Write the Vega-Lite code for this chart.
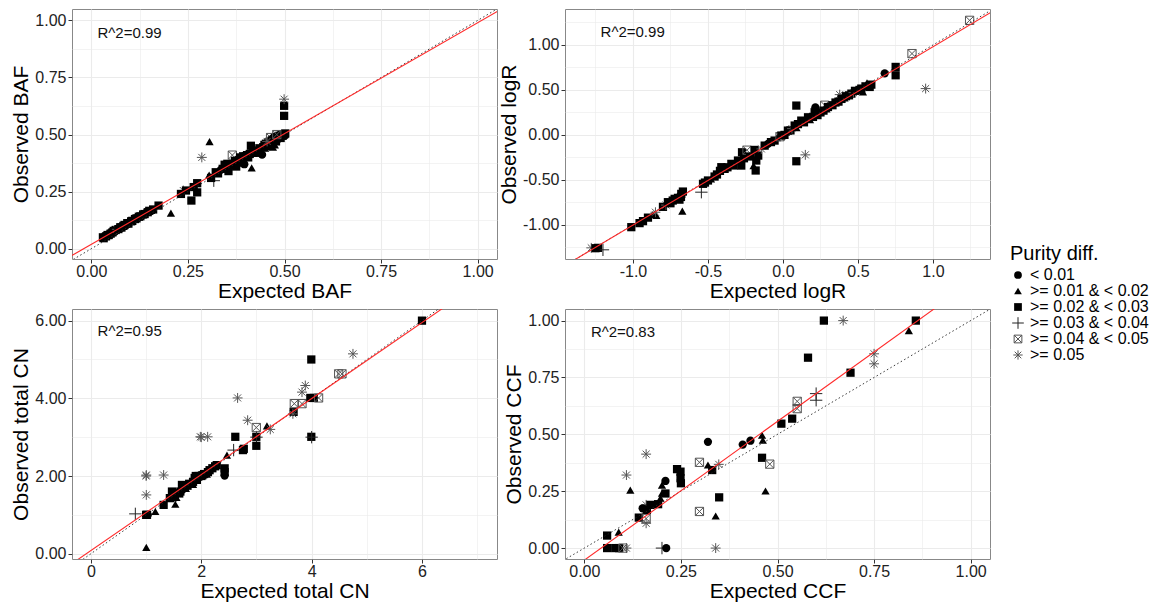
{
"$schema":"https://vega.github.io/schema/vega-lite/v6.json",
"padding":{"left":10,"top":8,"right":0,"bottom":0},
"background":"white",
"datasets":{
"cats":[{"d":"A","purity":"< 0.01"},{"d":"B","purity":">= 0.01 & < 0.02"},{"d":"C","purity":">= 0.02 & < 0.03"},{"d":"D","purity":">= 0.03 & < 0.04"},{"d":"E","purity":">= 0.04 & < 0.05"},{"d":"F","purity":">= 0.05"}],
"notes":[{"p":"baf","x":0.016,"y":0.946,"label":"R^2=0.99"},{"p":"logr","x":-1.216,"y":1.141,"label":"R^2=0.99"},{"p":"cn","x":0.12,"y":5.74,"label":"R^2=0.95"},{"p":"ccf","x":0.017,"y":0.949,"label":"R^2=0.83"}],
"lines":[
{"p":"baf","k":"fit","x":-0.1,"y":-0.078},{"p":"baf","k":"fit","x":1.1,"y":1.087},{"p":"baf","k":"id","x":-0.1,"y":-0.1},{"p":"baf","k":"id","x":1.1,"y":1.1},
{"p":"logr","k":"fit","x":-1.5,"y":-1.499},{"p":"logr","k":"fit","x":1.5,"y":1.477},{"p":"logr","k":"id","x":-1.5,"y":-1.5},{"p":"logr","k":"id","x":1.5,"y":1.5},
{"p":"cn","k":"fit","x":-0.5,"y":-0.407},{"p":"cn","k":"fit","x":7.5,"y":7.417},{"p":"cn","k":"id","x":-0.5,"y":-0.5},{"p":"cn","k":"id","x":7.5,"y":7.5},
{"p":"ccf","k":"fit","x":-0.1,"y":-0.175},{"p":"ccf","k":"fit","x":1.1,"y":1.289},{"p":"ccf","k":"id","x":-0.1,"y":-0.1},{"p":"ccf","k":"id","x":1.1,"y":1.1}
],
"pts":[
{"p":"baf","x":0.03,"y":0.05,"d":"C"},{"p":"baf","x":0.032,"y":0.046,"d":"C"},{"p":"baf","x":0.035,"y":0.055,"d":"A"},{"p":"baf","x":0.038,"y":0.054,"d":"C"},{"p":"baf","x":0.04,"y":0.058,"d":"B"},{"p":"baf","x":0.042,"y":0.06,"d":"C"},{"p":"baf","x":0.045,"y":0.06,"d":"C"},{"p":"baf","x":0.048,"y":0.068,"d":"A"},{"p":"baf","x":0.05,"y":0.066,"d":"C"},{"p":"baf","x":0.053,"y":0.07,"d":"B"},{"p":"baf","x":0.055,"y":0.072,"d":"C"},{"p":"baf","x":0.058,"y":0.078,"d":"C"},{"p":"baf","x":0.06,"y":0.075,"d":"A"},{"p":"baf","x":0.063,"y":0.082,"d":"C"},{"p":"baf","x":0.066,"y":0.085,"d":"F"},{"p":"baf","x":0.07,"y":0.086,"d":"C"},{"p":"baf","x":0.072,"y":0.09,"d":"B"},{"p":"baf","x":0.075,"y":0.094,"d":"C"},{"p":"baf","x":0.078,"y":0.093,"d":"C"},{"p":"baf","x":0.08,"y":0.1,"d":"A"},{"p":"baf","x":0.083,"y":0.1,"d":"C"},{"p":"baf","x":0.086,"y":0.104,"d":"C"},{"p":"baf","x":0.09,"y":0.106,"d":"B"},{"p":"baf","x":0.093,"y":0.112,"d":"C"},{"p":"baf","x":0.096,"y":0.11,"d":"C"},{"p":"baf","x":0.1,"y":0.118,"d":"A"},{"p":"baf","x":0.103,"y":0.12,"d":"C"},{"p":"baf","x":0.106,"y":0.122,"d":"C"},{"p":"baf","x":0.11,"y":0.128,"d":"B"},{"p":"baf","x":0.113,"y":0.13,"d":"C"},{"p":"baf","x":0.117,"y":0.133,"d":"C"},{"p":"baf","x":0.12,"y":0.138,"d":"A"},{"p":"baf","x":0.123,"y":0.14,"d":"C"},{"p":"baf","x":0.127,"y":0.142,"d":"C"},{"p":"baf","x":0.13,"y":0.148,"d":"B"},{"p":"baf","x":0.134,"y":0.15,"d":"C"},{"p":"baf","x":0.138,"y":0.152,"d":"C"},{"p":"baf","x":0.142,"y":0.158,"d":"A"},{"p":"baf","x":0.146,"y":0.16,"d":"C"},{"p":"baf","x":0.15,"y":0.166,"d":"C"},{"p":"baf","x":0.155,"y":0.168,"d":"B"},{"p":"baf","x":0.16,"y":0.172,"d":"C"},
{"p":"baf","x":0.174,"y":0.189,"d":"C"},{"p":"baf","x":0.206,"y":0.156,"d":"B"},{"p":"baf","x":0.238,"y":0.255,"d":"F"},{"p":"baf","x":0.232,"y":0.24,"d":"C"},{"p":"baf","x":0.245,"y":0.255,"d":"C"},{"p":"baf","x":0.259,"y":0.211,"d":"C"},{"p":"baf","x":0.274,"y":0.247,"d":"C"},{"p":"baf","x":0.274,"y":0.287,"d":"C"},{"p":"baf","x":0.265,"y":0.27,"d":"C"},{"p":"baf","x":0.286,"y":0.4,"d":"F"},{"p":"baf","x":0.306,"y":0.469,"d":"B"},{"p":"baf","x":0.305,"y":0.323,"d":"B"},{"p":"baf","x":0.317,"y":0.298,"d":"D"},{"p":"baf","x":0.31,"y":0.31,"d":"C"},
{"p":"baf","x":0.322,"y":0.335,"d":"C"},{"p":"baf","x":0.328,"y":0.33,"d":"C"},{"p":"baf","x":0.335,"y":0.345,"d":"A"},{"p":"baf","x":0.34,"y":0.35,"d":"C"},{"p":"baf","x":0.345,"y":0.368,"d":"C"},{"p":"baf","x":0.35,"y":0.36,"d":"C"},{"p":"baf","x":0.352,"y":0.372,"d":"C"},{"p":"baf","x":0.355,"y":0.34,"d":"C"},{"p":"baf","x":0.358,"y":0.375,"d":"B"},{"p":"baf","x":0.362,"y":0.365,"d":"C"},{"p":"baf","x":0.365,"y":0.41,"d":"E"},{"p":"baf","x":0.368,"y":0.37,"d":"C"},{"p":"baf","x":0.372,"y":0.385,"d":"C"},{"p":"baf","x":0.375,"y":0.36,"d":"C"},{"p":"baf","x":0.378,"y":0.39,"d":"A"},{"p":"baf","x":0.382,"y":0.38,"d":"C"},{"p":"baf","x":0.385,"y":0.4,"d":"C"},{"p":"baf","x":0.388,"y":0.375,"d":"B"},{"p":"baf","x":0.39,"y":0.39,"d":"C"},{"p":"baf","x":0.393,"y":0.405,"d":"C"},{"p":"baf","x":0.396,"y":0.37,"d":"A"},{"p":"baf","x":0.4,"y":0.405,"d":"C"},{"p":"baf","x":0.403,"y":0.41,"d":"C"},{"p":"baf","x":0.406,"y":0.4,"d":"C"},{"p":"baf","x":0.41,"y":0.415,"d":"C"},{"p":"baf","x":0.413,"y":0.451,"d":"C"},{"p":"baf","x":0.415,"y":0.354,"d":"B"},{"p":"baf","x":0.418,"y":0.42,"d":"C"},{"p":"baf","x":0.42,"y":0.425,"d":"C"},{"p":"baf","x":0.425,"y":0.43,"d":"C"},{"p":"baf","x":0.43,"y":0.42,"d":"C"},{"p":"baf","x":0.435,"y":0.44,"d":"C"},{"p":"baf","x":0.442,"y":0.412,"d":"A"},{"p":"baf","x":0.445,"y":0.445,"d":"C"},{"p":"baf","x":0.448,"y":0.455,"d":"C"},{"p":"baf","x":0.45,"y":0.44,"d":"B"},{"p":"baf","x":0.452,"y":0.46,"d":"C"},{"p":"baf","x":0.455,"y":0.45,"d":"C"},{"p":"baf","x":0.458,"y":0.465,"d":"C"},{"p":"baf","x":0.46,"y":0.455,"d":"B"},{"p":"baf","x":0.462,"y":0.47,"d":"C"},{"p":"baf","x":0.464,"y":0.487,"d":"E"},{"p":"baf","x":0.466,"y":0.46,"d":"C"},{"p":"baf","x":0.468,"y":0.475,"d":"C"},{"p":"baf","x":0.47,"y":0.465,"d":"B"},{"p":"baf","x":0.472,"y":0.48,"d":"C"},{"p":"baf","x":0.475,"y":0.485,"d":"C"},{"p":"baf","x":0.478,"y":0.47,"d":"C"},{"p":"baf","x":0.48,"y":0.49,"d":"C"},{"p":"baf","x":0.482,"y":0.478,"d":"A"},{"p":"baf","x":0.485,"y":0.49,"d":"C"},{"p":"baf","x":0.487,"y":0.495,"d":"C"},{"p":"baf","x":0.49,"y":0.485,"d":"C"},{"p":"baf","x":0.492,"y":0.5,"d":"C"},{"p":"baf","x":0.495,"y":0.495,"d":"C"},{"p":"baf","x":0.497,"y":0.5,"d":"C"},{"p":"baf","x":0.5,"y":0.502,"d":"C"},{"p":"baf","x":0.5,"y":0.495,"d":"A"},{"p":"baf","x":0.502,"y":0.505,"d":"C"},{"p":"baf","x":0.499,"y":0.626,"d":"C"},{"p":"baf","x":0.499,"y":0.582,"d":"C"},{"p":"baf","x":0.499,"y":0.655,"d":"F"},{"p":"baf","x":0.475,"y":0.455,"d":"B"},{"p":"baf","x":0.47,"y":0.445,"d":"B"},{"p":"baf","x":0.48,"y":0.5,"d":"E"},{"p":"baf","x":0.455,"y":0.47,"d":"F"},
{"p":"logr","x":-1.278,"y":-1.256,"d":"F"},{"p":"logr","x":-1.233,"y":-1.256,"d":"C"},{"p":"logr","x":-1.2,"y":-1.278,"d":"D"},{"p":"logr","x":-1.25,"y":-1.26,"d":"C"},{"p":"logr","x":-1.011,"y":-1.026,"d":"C"},{"p":"logr","x":-0.956,"y":-0.981,"d":"C"},{"p":"logr","x":-0.933,"y":-0.959,"d":"C"},{"p":"logr","x":-0.9,"y":-0.92,"d":"C"},{"p":"logr","x":-0.867,"y":-0.885,"d":"B"},{"p":"logr","x":-0.844,"y":-0.896,"d":"B"},{"p":"logr","x":-0.85,"y":-0.86,"d":"F"},{"p":"logr","x":-0.8,"y":-0.8,"d":"C"},{"p":"logr","x":-0.78,"y":-0.78,"d":"F"},{"p":"logr","x":-0.767,"y":-0.748,"d":"C"},{"p":"logr","x":-0.75,"y":-0.76,"d":"C"},{"p":"logr","x":-0.735,"y":-0.73,"d":"C"},{"p":"logr","x":-0.722,"y":-0.711,"d":"C"},{"p":"logr","x":-0.7,"y":-0.7,"d":"C"},{"p":"logr","x":-0.69,"y":-0.72,"d":"C"},{"p":"logr","x":-0.678,"y":-0.656,"d":"C"},{"p":"logr","x":-0.667,"y":-0.63,"d":"C"},{"p":"logr","x":-0.671,"y":-0.848,"d":"B"},{"p":"logr","x":-0.68,"y":-0.69,"d":"C"},{"p":"logr","x":-0.544,"y":-0.637,"d":"D"},{"p":"logr","x":-0.533,"y":-0.544,"d":"C"},{"p":"logr","x":-0.52,"y":-0.53,"d":"C"},{"p":"logr","x":-0.5,"y":-0.507,"d":"C"},{"p":"logr","x":-0.48,"y":-0.49,"d":"B"},{"p":"logr","x":-0.456,"y":-0.463,"d":"C"},{"p":"logr","x":-0.44,"y":-0.44,"d":"C"},{"p":"logr","x":-0.42,"y":-0.4,"d":"C"},{"p":"logr","x":-0.411,"y":-0.359,"d":"C"},{"p":"logr","x":-0.389,"y":-0.378,"d":"C"},{"p":"logr","x":-0.37,"y":-0.36,"d":"C"},{"p":"logr","x":-0.344,"y":-0.322,"d":"C"},{"p":"logr","x":-0.33,"y":-0.34,"d":"C"},{"p":"logr","x":-0.3,"y":-0.285,"d":"C"},{"p":"logr","x":-0.278,"y":-0.341,"d":"C"},{"p":"logr","x":-0.273,"y":-0.193,"d":"C"},{"p":"logr","x":-0.26,"y":-0.26,"d":"C"},{"p":"logr","x":-0.24,"y":-0.17,"d":"E"},{"p":"logr","x":-0.22,"y":-0.24,"d":"C"},{"p":"logr","x":-0.196,"y":-0.341,"d":"B"},{"p":"logr","x":-0.189,"y":-0.167,"d":"C"},{"p":"logr","x":-0.178,"y":-0.285,"d":"C"},{"p":"logr","x":-0.182,"y":-0.396,"d":"C"},{"p":"logr","x":-0.165,"y":-0.23,"d":"C"},{"p":"logr","x":-0.144,"y":-0.156,"d":"F"},{"p":"logr","x":-0.122,"y":-0.119,"d":"C"},{"p":"logr","x":-0.1,"y":-0.1,"d":"A"},{"p":"logr","x":-0.08,"y":-0.08,"d":"C"},{"p":"logr","x":-0.056,"y":-0.063,"d":"C"},{"p":"logr","x":-0.04,"y":-0.03,"d":"B"},{"p":"logr","x":-0.02,"y":-0.02,"d":"E"},{"p":"logr","x":-0.011,"y":-0.007,"d":"C"},{"p":"logr","x":0.01,"y":0.0,"d":"C"},{"p":"logr","x":0.02,"y":0.03,"d":"B"},{"p":"logr","x":0.033,"y":0.048,"d":"C"},{"p":"logr","x":0.05,"y":0.05,"d":"C"},{"p":"logr","x":0.06,"y":0.07,"d":"F"},{"p":"logr","x":0.078,"y":0.104,"d":"C"},{"p":"logr","x":0.09,"y":0.08,"d":"B"},{"p":"logr","x":0.1,"y":0.12,"d":"C"},{"p":"logr","x":0.122,"y":0.159,"d":"C"},{"p":"logr","x":0.14,"y":0.14,"d":"C"},{"p":"logr","x":0.167,"y":0.196,"d":"C"},{"p":"logr","x":0.18,"y":0.17,"d":"B"},{"p":"logr","x":0.2,"y":0.2,"d":"C"},{"p":"logr","x":0.211,"y":0.252,"d":"C"},{"p":"logr","x":0.216,"y":0.307,"d":"A"},{"p":"logr","x":0.23,"y":0.22,"d":"C"},{"p":"logr","x":0.25,"y":0.25,"d":"C"},{"p":"logr","x":0.278,"y":0.33,"d":"E"},{"p":"logr","x":0.27,"y":0.27,"d":"C"},{"p":"logr","x":0.29,"y":0.29,"d":"B"},{"p":"logr","x":0.3,"y":0.31,"d":"C"},{"p":"logr","x":0.33,"y":0.33,"d":"C"},{"p":"logr","x":0.35,"y":0.36,"d":"C"},{"p":"logr","x":0.378,"y":0.448,"d":"F"},{"p":"logr","x":0.37,"y":0.37,"d":"C"},{"p":"logr","x":0.39,"y":0.4,"d":"C"},{"p":"logr","x":0.41,"y":0.41,"d":"B"},{"p":"logr","x":0.42,"y":0.43,"d":"C"},{"p":"logr","x":0.44,"y":0.44,"d":"C"},{"p":"logr","x":0.456,"y":0.459,"d":"C"},{"p":"logr","x":0.47,"y":0.47,"d":"F"},{"p":"logr","x":0.48,"y":0.49,"d":"C"},{"p":"logr","x":0.5,"y":0.5,"d":"B"},{"p":"logr","x":0.51,"y":0.5,"d":"C"},{"p":"logr","x":0.522,"y":0.515,"d":"C"},{"p":"logr","x":0.533,"y":0.478,"d":"B"},{"p":"logr","x":0.55,"y":0.54,"d":"C"},{"p":"logr","x":0.578,"y":0.533,"d":"C"},{"p":"logr","x":0.589,"y":0.559,"d":"C"},{"p":"logr","x":0.56,"y":0.58,"d":"B"},{"p":"logr","x":0.678,"y":0.685,"d":"A"},{"p":"logr","x":0.751,"y":0.756,"d":"C"},{"p":"logr","x":0.751,"y":0.663,"d":"C"},{"p":"logr","x":0.86,"y":0.904,"d":"E"},{"p":"logr","x":1.244,"y":1.274,"d":"E"},{"p":"logr","x":0.951,"y":0.515,"d":"F"},{"p":"logr","x":0.089,"y":0.326,"d":"C"},{"p":"logr","x":0.089,"y":-0.293,"d":"C"},{"p":"logr","x":0.149,"y":-0.222,"d":"F"},
{"p":"cn","x":1.003,"y":0.162,"d":"B"},{"p":"cn","x":0.804,"y":1.025,"d":"D"},{"p":"cn","x":1.0,"y":1.0,"d":"C"},{"p":"cn","x":1.015,"y":1.0,"d":"C"},{"p":"cn","x":1.03,"y":1.0,"d":"A"},{"p":"cn","x":1.166,"y":1.085,"d":"B"},{"p":"cn","x":1.003,"y":1.513,"d":"F"},{"p":"cn","x":1.003,"y":2.025,"d":"F"},{"p":"cn","x":1.0,"y":2.0,"d":"F"},{"p":"cn","x":1.317,"y":2.025,"d":"F"},{"p":"cn","x":1.317,"y":1.256,"d":"C"},{"p":"cn","x":1.529,"y":1.274,"d":"B"},{"p":"cn","x":1.468,"y":1.6,"d":"C"},{"p":"cn","x":1.649,"y":1.77,"d":"C"},{"p":"cn","x":1.43,"y":1.43,"d":"C"},{"p":"cn","x":1.48,"y":1.45,"d":"C"},{"p":"cn","x":1.52,"y":1.5,"d":"C"},{"p":"cn","x":1.55,"y":1.55,"d":"A"},{"p":"cn","x":1.6,"y":1.55,"d":"C"},{"p":"cn","x":1.62,"y":1.6,"d":"C"},{"p":"cn","x":1.66,"y":1.65,"d":"A"},{"p":"cn","x":1.7,"y":1.7,"d":"C"},{"p":"cn","x":1.72,"y":1.68,"d":"B"},{"p":"cn","x":1.75,"y":1.75,"d":"C"},{"p":"cn","x":1.78,"y":1.8,"d":"C"},{"p":"cn","x":1.8,"y":1.78,"d":"B"},{"p":"cn","x":1.85,"y":1.85,"d":"C"},{"p":"cn","x":1.88,"y":1.95,"d":"C"},{"p":"cn","x":1.9,"y":2.0,"d":"C"},{"p":"cn","x":1.92,"y":1.9,"d":"C"},{"p":"cn","x":1.95,"y":2.0,"d":"C"},{"p":"cn","x":1.98,"y":1.98,"d":"A"},{"p":"cn","x":2.0,"y":2.0,"d":"C"},{"p":"cn","x":2.02,"y":2.02,"d":"C"},{"p":"cn","x":2.05,"y":2.05,"d":"C"},{"p":"cn","x":2.1,"y":2.05,"d":"B"},{"p":"cn","x":2.12,"y":2.1,"d":"C"},{"p":"cn","x":2.15,"y":2.15,"d":"C"},{"p":"cn","x":2.2,"y":2.2,"d":"C"},{"p":"cn","x":2.25,"y":2.25,"d":"C"},{"p":"cn","x":2.28,"y":2.28,"d":"C"},{"p":"cn","x":1.85,"y":1.78,"d":"B"},{"p":"cn","x":1.55,"y":1.45,"d":"B"},
{"p":"cn","x":1.982,"y":3.009,"d":"F"},{"p":"cn","x":2.0,"y":3.0,"d":"F"},{"p":"cn","x":2.115,"y":3.009,"d":"F"},{"p":"cn","x":2.423,"y":2.197,"d":"C"},{"p":"cn","x":2.423,"y":2.01,"d":"A"},{"p":"cn","x":2.423,"y":2.1,"d":"C"},{"p":"cn","x":2.465,"y":2.538,"d":"B"},{"p":"cn","x":2.586,"y":2.667,"d":"D"},{"p":"cn","x":2.616,"y":3.009,"d":"C"},{"p":"cn","x":2.755,"y":2.667,"d":"C"},{"p":"cn","x":2.77,"y":2.7,"d":"C"},{"p":"cn","x":2.658,"y":4.01,"d":"F"},{"p":"cn","x":2.84,"y":3.436,"d":"F"},{"p":"cn","x":2.997,"y":3.009,"d":"C"},{"p":"cn","x":3.0,"y":3.0,"d":"D"},{"p":"cn","x":2.997,"y":2.778,"d":"C"},{"p":"cn","x":2.997,"y":3.248,"d":"E"},{"p":"cn","x":3.19,"y":3.29,"d":"B"},{"p":"cn","x":3.25,"y":3.2,"d":"F"},{"p":"cn","x":3.673,"y":3.65,"d":"C"},{"p":"cn","x":3.66,"y":3.6,"d":"F"},{"p":"cn","x":3.686,"y":3.863,"d":"E"},{"p":"cn","x":3.825,"y":3.863,"d":"E"},{"p":"cn","x":3.825,"y":4.16,"d":"F"},{"p":"cn","x":3.885,"y":4.33,"d":"F"},{"p":"cn","x":3.976,"y":4.01,"d":"C"},{"p":"cn","x":4.04,"y":4.01,"d":"C"},{"p":"cn","x":4.126,"y":4.01,"d":"E"},{"p":"cn","x":3.994,"y":5.0,"d":"C"},{"p":"cn","x":3.994,"y":3.009,"d":"C"},{"p":"cn","x":4.0,"y":3.0,"d":"D"},{"p":"cn","x":4.49,"y":4.63,"d":"E"},{"p":"cn","x":4.55,"y":4.63,"d":"E"},{"p":"cn","x":4.749,"y":5.145,"d":"F"},{"p":"cn","x":6.0,"y":6.0,"d":"C"},
{"p":"ccf","x":0.059,"y":0.055,"d":"C"},{"p":"ccf","x":0.089,"y":0.07,"d":"B"},{"p":"ccf","x":0.059,"y":0.0,"d":"C"},{"p":"ccf","x":0.08,"y":0.0,"d":"C"},{"p":"ccf","x":0.09,"y":0.0,"d":"C"},{"p":"ccf","x":0.1,"y":0.0,"d":"E"},{"p":"ccf","x":0.109,"y":0.0,"d":"F"},{"p":"ccf","x":0.109,"y":0.321,"d":"F"},{"p":"ccf","x":0.119,"y":0.255,"d":"B"},{"p":"ccf","x":0.16,"y":0.413,"d":"F"},{"p":"ccf","x":0.141,"y":0.134,"d":"C"},{"p":"ccf","x":0.16,"y":0.109,"d":"F"},{"p":"ccf","x":0.16,"y":0.13,"d":"E"},{"p":"ccf","x":0.16,"y":0.19,"d":"F"},{"p":"ccf","x":0.151,"y":0.175,"d":"A"},{"p":"ccf","x":0.162,"y":0.168,"d":"C"},{"p":"ccf","x":0.171,"y":0.19,"d":"C"},{"p":"ccf","x":0.191,"y":0.193,"d":"C"},{"p":"ccf","x":0.197,"y":0.219,"d":"B"},{"p":"ccf","x":0.201,"y":0.241,"d":"B"},{"p":"ccf","x":0.21,"y":0.24,"d":"C"},{"p":"ccf","x":0.201,"y":0.277,"d":"B"},{"p":"ccf","x":0.21,"y":0.295,"d":"A"},{"p":"ccf","x":0.201,"y":0.0,"d":"D"},{"p":"ccf","x":0.212,"y":0.0,"d":"A"},{"p":"ccf","x":0.24,"y":0.347,"d":"C"},{"p":"ccf","x":0.249,"y":0.336,"d":"C"},{"p":"ccf","x":0.249,"y":0.307,"d":"C"},{"p":"ccf","x":0.25,"y":0.285,"d":"C"},{"p":"ccf","x":0.298,"y":0.377,"d":"E"},{"p":"ccf","x":0.298,"y":0.161,"d":"E"},{"p":"ccf","x":0.32,"y":0.467,"d":"A"},{"p":"ccf","x":0.32,"y":0.365,"d":"B"},{"p":"ccf","x":0.331,"y":0.343,"d":"C"},{"p":"ccf","x":0.348,"y":0.368,"d":"F"},{"p":"ccf","x":0.349,"y":0.223,"d":"C"},{"p":"ccf","x":0.34,"y":0.141,"d":"B"},{"p":"ccf","x":0.34,"y":0.0,"d":"F"},{"p":"ccf","x":0.41,"y":0.455,"d":"A"},{"p":"ccf","x":0.43,"y":0.472,"d":"A"},{"p":"ccf","x":0.46,"y":0.496,"d":"B"},{"p":"ccf","x":0.462,"y":0.474,"d":"B"},{"p":"ccf","x":0.46,"y":0.397,"d":"C"},{"p":"ccf","x":0.48,"y":0.369,"d":"E"},{"p":"ccf","x":0.469,"y":0.251,"d":"B"},{"p":"ccf","x":0.51,"y":0.547,"d":"C"},{"p":"ccf","x":0.538,"y":0.569,"d":"C"},{"p":"ccf","x":0.551,"y":0.645,"d":"E"},{"p":"ccf","x":0.551,"y":0.613,"d":"E"},{"p":"ccf","x":0.6,"y":0.679,"d":"D"},{"p":"ccf","x":0.6,"y":0.65,"d":"D"},{"p":"ccf","x":0.579,"y":0.837,"d":"C"},{"p":"ccf","x":0.689,"y":0.771,"d":"C"},{"p":"ccf","x":0.62,"y":1.0,"d":"C"},{"p":"ccf","x":0.67,"y":1.0,"d":"F"},{"p":"ccf","x":0.75,"y":0.854,"d":"F"},{"p":"ccf","x":0.75,"y":0.81,"d":"F"},{"p":"ccf","x":0.84,"y":0.956,"d":"B"},{"p":"ccf","x":0.858,"y":1.0,"d":"C"}
]
},
"columns":2,
"spacing":{"row":6,"column":0},
"concat":[
{"width":425,"height":250,
 "encoding":{
   "x":{"field":"x","type":"quantitative","scale":{"domain":[-0.05,1.05],"nice":false,"zero":false},"axis":{"title":"Expected BAF","values":[0,0.125,0.25,0.375,0.5,0.625,0.75,0.875,1],"labelExpr":"round(datum.value*8)%2==1 ? '' : format(datum.value,'.2f')","gridWidth":{"condition":{"test":"round(datum.value*8)%2==1","value":0.6},"value":1.1},"tickColor":{"condition":{"test":"round(datum.value*8)%2==1","value":"transparent"},"value":"#333"}}},
   "y":{"field":"y","type":"quantitative","scale":{"domain":[-0.045,1.05],"nice":false,"zero":false},"axis":{"title":"Observed BAF","values":[0,0.125,0.25,0.375,0.5,0.625,0.75,0.875,1],"labelExpr":"round(datum.value*8)%2==1 ? '' : format(datum.value,'.2f')","gridWidth":{"condition":{"test":"round(datum.value*8)%2==1","value":0.6},"value":1.1},"tickColor":{"condition":{"test":"round(datum.value*8)%2==1","value":"transparent"},"value":"#333"}}}
 },
 "layer":[
 {"data":{"name":"pts"},"transform":[{"filter":"datum.p=='baf'"},{"lookup":"d","from":{"data":{"name":"cats"},"key":"d","fields":["purity"]}}],
  "mark":{"type":"point","size":68,"opacity":1,"strokeWidth":1},
  "encoding":{
   "shape":{"field":"purity","type":"nominal","title":"Purity diff.","scale":{"domain":["< 0.01",">= 0.01 & < 0.02",">= 0.02 & < 0.03",">= 0.03 & < 0.04",">= 0.04 & < 0.05",">= 0.05"],"range":["circle","triangle-up","square","M-1.5,0H1.5M0,-1.5V1.5","M-1,-1H1V1H-1ZM-1,-1L1,1M1,-1L-1,1","M-1.2,0H1.2M0,-1.2V1.2M-0.85,-0.85L0.85,0.85M0.85,-0.85L-0.85,0.85"]},"legend":{"orient":"none","legendX":938,"legendY":235}},
   "fill":{"field":"purity","type":"nominal","title":"Purity diff.","scale":{"domain":["< 0.01",">= 0.01 & < 0.02",">= 0.02 & < 0.03",">= 0.03 & < 0.04",">= 0.04 & < 0.05",">= 0.05"],"range":["black","black","black","transparent","transparent","transparent"]},"legend":{"orient":"none","legendX":938,"legendY":235}},
   "stroke":{"field":"purity","type":"nominal","title":"Purity diff.","scale":{"domain":["< 0.01",">= 0.01 & < 0.02",">= 0.02 & < 0.03",">= 0.03 & < 0.04",">= 0.04 & < 0.05",">= 0.05"],"range":["transparent","transparent","transparent","#222","#555","#555"]},"legend":{"orient":"none","legendX":938,"legendY":235}}
  }},
 {"data":{"name":"lines"},"transform":[{"filter":"datum.p=='baf' && datum.k=='id'"}],"mark":{"type":"line","clip":true,"color":"#222","strokeWidth":0.9,"strokeDash":[1.5,2.5]},"encoding":{}},
 {"data":{"name":"lines"},"transform":[{"filter":"datum.p=='baf' && datum.k=='fit'"}],"mark":{"type":"line","clip":true,"color":"#ff2a2a","strokeWidth":1.1},"encoding":{}},
 {"data":{"name":"notes"},"transform":[{"filter":"datum.p=='baf'"}],"mark":{"type":"text","align":"left","baseline":"middle","fontSize":15,"color":"#111"},"encoding":{"text":{"field":"label","type":"nominal"}}}
]},
{"width":425,"height":250,
 "encoding":{
   "x":{"field":"x","type":"quantitative","scale":{"domain":[-1.453,1.38],"nice":false,"zero":false},"axis":{"title":"Expected logR","values":[-1.25,-1,-0.75,-0.5,-0.25,0,0.25,0.5,0.75,1,1.25],"labelExpr":"round(datum.value*4)%2!=0 ? '' : (datum.value<0 ? '-' + format(-datum.value,'.1f') : format(datum.value,'.1f'))","gridWidth":{"condition":{"test":"round(datum.value*4)%2!=0","value":0.6},"value":1.1},"tickColor":{"condition":{"test":"round(datum.value*4)%2!=0","value":"transparent"},"value":"#333"}}},
   "y":{"field":"y","type":"quantitative","scale":{"domain":[-1.38,1.4],"nice":false,"zero":false},"axis":{"title":"Observed logR","values":[-1.25,-1,-0.75,-0.5,-0.25,0,0.25,0.5,0.75,1,1.25],"labelExpr":"round(datum.value*4)%2!=0 ? '' : (datum.value<0 ? '-' + format(-datum.value,'.2f') : format(datum.value,'.2f'))","gridWidth":{"condition":{"test":"round(datum.value*4)%2!=0","value":0.6},"value":1.1},"tickColor":{"condition":{"test":"round(datum.value*4)%2!=0","value":"transparent"},"value":"#333"}}}
 },
 "layer":[
 {"data":{"name":"pts"},"transform":[{"filter":"datum.p=='logr'"},{"lookup":"d","from":{"data":{"name":"cats"},"key":"d","fields":["purity"]}}],
  "mark":{"type":"point","size":68,"opacity":1,"strokeWidth":1},
  "encoding":{
   "shape":{"field":"purity","type":"nominal","title":"Purity diff.","scale":{"domain":["< 0.01",">= 0.01 & < 0.02",">= 0.02 & < 0.03",">= 0.03 & < 0.04",">= 0.04 & < 0.05",">= 0.05"],"range":["circle","triangle-up","square","M-1.5,0H1.5M0,-1.5V1.5","M-1,-1H1V1H-1ZM-1,-1L1,1M1,-1L-1,1","M-1.2,0H1.2M0,-1.2V1.2M-0.85,-0.85L0.85,0.85M0.85,-0.85L-0.85,0.85"]},"legend":{"orient":"none","legendX":938,"legendY":235}},
   "fill":{"field":"purity","type":"nominal","title":"Purity diff.","scale":{"domain":["< 0.01",">= 0.01 & < 0.02",">= 0.02 & < 0.03",">= 0.03 & < 0.04",">= 0.04 & < 0.05",">= 0.05"],"range":["black","black","black","transparent","transparent","transparent"]},"legend":{"orient":"none","legendX":938,"legendY":235}},
   "stroke":{"field":"purity","type":"nominal","title":"Purity diff.","scale":{"domain":["< 0.01",">= 0.01 & < 0.02",">= 0.02 & < 0.03",">= 0.03 & < 0.04",">= 0.04 & < 0.05",">= 0.05"],"range":["transparent","transparent","transparent","#222","#555","#555"]},"legend":{"orient":"none","legendX":938,"legendY":235}}
  }},
 {"data":{"name":"lines"},"transform":[{"filter":"datum.p=='logr' && datum.k=='id'"}],"mark":{"type":"line","clip":true,"color":"#222","strokeWidth":0.9,"strokeDash":[1.5,2.5]},"encoding":{}},
 {"data":{"name":"lines"},"transform":[{"filter":"datum.p=='logr' && datum.k=='fit'"}],"mark":{"type":"line","clip":true,"color":"#ff2a2a","strokeWidth":1.1},"encoding":{}},
 {"data":{"name":"notes"},"transform":[{"filter":"datum.p=='logr'"}],"mark":{"type":"text","align":"left","baseline":"middle","fontSize":15,"color":"#111"},"encoding":{"text":{"field":"label","type":"nominal"}}}
]},
{"width":425,"height":250,
 "encoding":{
   "x":{"field":"x","type":"quantitative","scale":{"domain":[-0.344,7.36],"nice":false,"zero":false},"axis":{"title":"Expected total CN","values":[0,1,2,3,4,5,6,7],"labelExpr":"round(datum.value)%2!=0 ? '' : format(datum.value,'d')","gridWidth":{"condition":{"test":"round(datum.value)%2!=0","value":0.6},"value":1.1},"tickColor":{"condition":{"test":"round(datum.value)%2!=0","value":"transparent"},"value":"#333"}}},
   "y":{"field":"y","type":"quantitative","scale":{"domain":[-0.137,6.3],"nice":false,"zero":false},"axis":{"title":"Observed total CN","values":[0,1,2,3,4,5,6],"labelExpr":"round(datum.value)%2!=0 ? '' : format(datum.value,'.2f')","gridWidth":{"condition":{"test":"round(datum.value)%2!=0","value":0.6},"value":1.1},"tickColor":{"condition":{"test":"round(datum.value)%2!=0","value":"transparent"},"value":"#333"}}}
 },
 "layer":[
 {"data":{"name":"pts"},"transform":[{"filter":"datum.p=='cn'"},{"lookup":"d","from":{"data":{"name":"cats"},"key":"d","fields":["purity"]}}],
  "mark":{"type":"point","size":68,"opacity":1,"strokeWidth":1},
  "encoding":{
   "shape":{"field":"purity","type":"nominal","title":"Purity diff.","scale":{"domain":["< 0.01",">= 0.01 & < 0.02",">= 0.02 & < 0.03",">= 0.03 & < 0.04",">= 0.04 & < 0.05",">= 0.05"],"range":["circle","triangle-up","square","M-1.5,0H1.5M0,-1.5V1.5","M-1,-1H1V1H-1ZM-1,-1L1,1M1,-1L-1,1","M-1.2,0H1.2M0,-1.2V1.2M-0.85,-0.85L0.85,0.85M0.85,-0.85L-0.85,0.85"]},"legend":{"orient":"none","legendX":938,"legendY":235}},
   "fill":{"field":"purity","type":"nominal","title":"Purity diff.","scale":{"domain":["< 0.01",">= 0.01 & < 0.02",">= 0.02 & < 0.03",">= 0.03 & < 0.04",">= 0.04 & < 0.05",">= 0.05"],"range":["black","black","black","transparent","transparent","transparent"]},"legend":{"orient":"none","legendX":938,"legendY":235}},
   "stroke":{"field":"purity","type":"nominal","title":"Purity diff.","scale":{"domain":["< 0.01",">= 0.01 & < 0.02",">= 0.02 & < 0.03",">= 0.03 & < 0.04",">= 0.04 & < 0.05",">= 0.05"],"range":["transparent","transparent","transparent","#222","#555","#555"]},"legend":{"orient":"none","legendX":938,"legendY":235}}
  }},
 {"data":{"name":"lines"},"transform":[{"filter":"datum.p=='cn' && datum.k=='id'"}],"mark":{"type":"line","clip":true,"color":"#222","strokeWidth":0.9,"strokeDash":[1.5,2.5]},"encoding":{}},
 {"data":{"name":"lines"},"transform":[{"filter":"datum.p=='cn' && datum.k=='fit'"}],"mark":{"type":"line","clip":true,"color":"#ff2a2a","strokeWidth":1.1},"encoding":{}},
 {"data":{"name":"notes"},"transform":[{"filter":"datum.p=='cn'"}],"mark":{"type":"text","align":"left","baseline":"middle","fontSize":15,"color":"#111"},"encoding":{"text":{"field":"label","type":"nominal"}}}
]},
{"width":425,"height":250,
 "encoding":{
   "x":{"field":"x","type":"quantitative","scale":{"domain":[-0.05,1.05],"nice":false,"zero":false},"axis":{"title":"Expected CCF","values":[0,0.125,0.25,0.375,0.5,0.625,0.75,0.875,1],"labelExpr":"round(datum.value*8)%2==1 ? '' : format(datum.value,'.2f')","gridWidth":{"condition":{"test":"round(datum.value*8)%2==1","value":0.6},"value":1.1},"tickColor":{"condition":{"test":"round(datum.value*8)%2==1","value":"transparent"},"value":"#333"}}},
   "y":{"field":"y","type":"quantitative","scale":{"domain":[-0.048,1.051],"nice":false,"zero":false},"axis":{"title":"Observed CCF","values":[0,0.125,0.25,0.375,0.5,0.625,0.75,0.875,1],"labelExpr":"round(datum.value*8)%2==1 ? '' : format(datum.value,'.2f')","gridWidth":{"condition":{"test":"round(datum.value*8)%2==1","value":0.6},"value":1.1},"tickColor":{"condition":{"test":"round(datum.value*8)%2==1","value":"transparent"},"value":"#333"}}}
 },
 "layer":[
 {"data":{"name":"pts"},"transform":[{"filter":"datum.p=='ccf'"},{"lookup":"d","from":{"data":{"name":"cats"},"key":"d","fields":["purity"]}}],
  "mark":{"type":"point","size":68,"opacity":1,"strokeWidth":1},
  "encoding":{
   "shape":{"field":"purity","type":"nominal","title":"Purity diff.","scale":{"domain":["< 0.01",">= 0.01 & < 0.02",">= 0.02 & < 0.03",">= 0.03 & < 0.04",">= 0.04 & < 0.05",">= 0.05"],"range":["circle","triangle-up","square","M-1.5,0H1.5M0,-1.5V1.5","M-1,-1H1V1H-1ZM-1,-1L1,1M1,-1L-1,1","M-1.2,0H1.2M0,-1.2V1.2M-0.85,-0.85L0.85,0.85M0.85,-0.85L-0.85,0.85"]},"legend":{"orient":"none","legendX":938,"legendY":235}},
   "fill":{"field":"purity","type":"nominal","title":"Purity diff.","scale":{"domain":["< 0.01",">= 0.01 & < 0.02",">= 0.02 & < 0.03",">= 0.03 & < 0.04",">= 0.04 & < 0.05",">= 0.05"],"range":["black","black","black","transparent","transparent","transparent"]},"legend":{"orient":"none","legendX":938,"legendY":235}},
   "stroke":{"field":"purity","type":"nominal","title":"Purity diff.","scale":{"domain":["< 0.01",">= 0.01 & < 0.02",">= 0.02 & < 0.03",">= 0.03 & < 0.04",">= 0.04 & < 0.05",">= 0.05"],"range":["transparent","transparent","transparent","#222","#555","#555"]},"legend":{"orient":"none","legendX":938,"legendY":235}}
  }},
 {"data":{"name":"lines"},"transform":[{"filter":"datum.p=='ccf' && datum.k=='id'"}],"mark":{"type":"line","clip":true,"color":"#222","strokeWidth":0.9,"strokeDash":[1.5,2.5]},"encoding":{}},
 {"data":{"name":"lines"},"transform":[{"filter":"datum.p=='ccf' && datum.k=='fit'"}],"mark":{"type":"line","clip":true,"color":"#ff2a2a","strokeWidth":1.1},"encoding":{}},
 {"data":{"name":"notes"},"transform":[{"filter":"datum.p=='ccf'"}],"mark":{"type":"text","align":"left","baseline":"middle","fontSize":15,"color":"#111"},"encoding":{"text":{"field":"label","type":"nominal"}}}
]}
],
"config":{
 "font":"Liberation Sans",
 "view":{"stroke":"#888","strokeWidth":1},
 "axis":{"labelFontSize":16,"labelColor":"#222","labelFont":"Liberation Sans","titleFont":"Liberation Sans","titleFontSize":21,"titleFontWeight":"normal","titleColor":"#000","tickSize":4,"domain":false,"labelFlush":false,"labelOverlap":false,"gridColor":"#ebebeb","labelPadding":2,"titlePadding":3},
 "axisX":{"labelPadding":0,"titlePadding":1},
 "legend":{"titleFontSize":20,"titleFontWeight":"normal","titleColor":"#000","labelFontSize":16,"labelColor":"#000","symbolSize":60,"symbolStrokeWidth":1,"rowPadding":0,"labelOffset":4,"titlePadding":3}
}
}
